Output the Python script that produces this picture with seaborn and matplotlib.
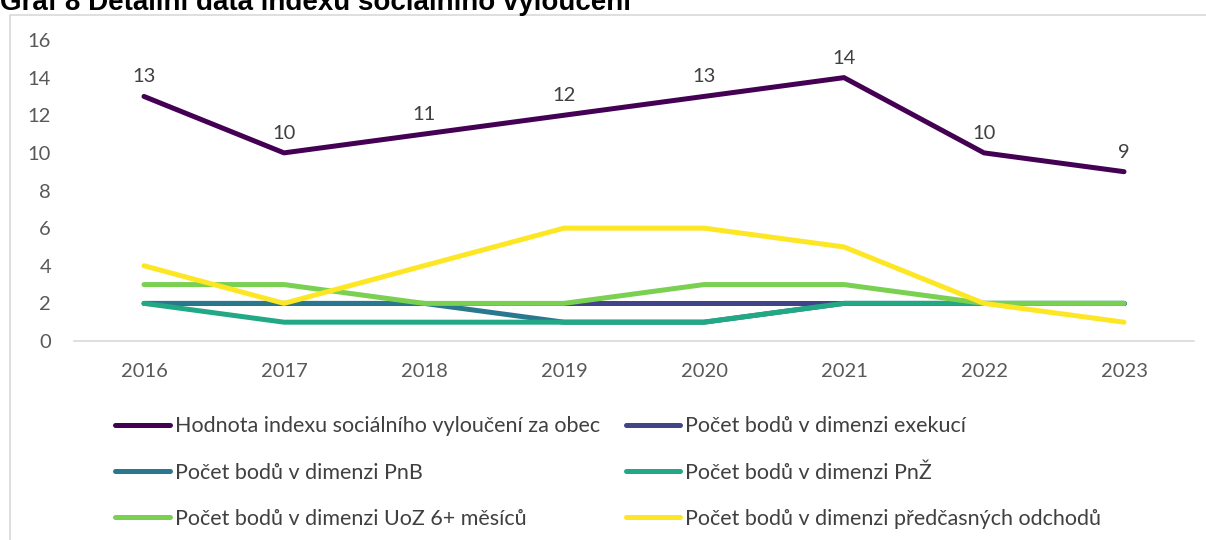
import pandas as pd
import seaborn as sns
import matplotlib.pyplot as plt
from matplotlib.patches import Rectangle

years = [2016, 2017, 2018, 2019, 2020, 2021, 2022, 2023]
index_total = [13, 10, 11, 12, 13, 14, 10, 9]
exekuce = [2, 2, 2, 2, 2, 2, 2, 2]
pnb = [2, 2, 2, 1, 1, 2, 2, 2]
pnz = [2, 1, 1, 1, 1, 2, 2, 2]
uoz = [3, 3, 2, 2, 3, 3, 2, 2]
odchody = [4, 2, 4, 6, 6, 5, 2, 1]

series_names = [
    "Hodnota indexu sociálního vyloučení za obec",
    "Počet bodů v dimenzi exekucí",
    "Počet bodů v dimenzi PnB",
    "Počet bodů v dimenzi PnŽ",
    "Počet bodů v dimenzi UoZ 6+ měsíců",
    "Počet bodů v dimenzi předčasných odchodů",
]
colors = ["#440154", "#414487", "#2A788E", "#22A884", "#7AD151", "#FDE725"]

# long-form table for seaborn
rows = []
for name, vals in zip(series_names, [index_total, exekuce, pnb, pnz, uoz, odchody]):
    for i, v in enumerate(vals):
        rows.append({"pos": i, "year": str(years[i]), "value": v, "series": name})
df = pd.DataFrame(rows)

sns.set_style("white")
plt.rcParams['font.family'] = ['Lato', 'DejaVu Sans']

fig = plt.figure(figsize=(12.06, 5.40), dpi=100)
ax = fig.add_axes([74 / 1206, 1 - 341 / 540, 1120 / 1206, 301 / 540])

sns.lineplot(data=df, x="pos", y="value", hue="series", palette=colors,
             hue_order=series_names, linewidth=3.6, ax=ax, legend=False,
             solid_capstyle="round")

# data labels on the index line
for i, v in enumerate(index_total):
    ax.annotate(str(v), (i, v), xytext=(0, 14), textcoords="offset points",
                ha="center", va="center", fontsize=14.5, color="#404040")

ax.set_xlim(-0.5, 7.5)
ax.set_ylim(0, 16)
ax.set_yticks(range(0, 17, 2))
ax.set_xticks(range(len(years)))
ax.set_xticklabels([str(y) for y in years])
ax.set_xlabel("")
ax.set_ylabel("")
for s in ["top", "right", "left"]:
    ax.spines[s].set_visible(False)
ax.spines["bottom"].set_color("#d9d9d9")
ax.spines["bottom"].set_linewidth(1.2)
ax.tick_params(axis="both", length=0, labelsize=14.5, labelcolor="#595959")
ax.tick_params(axis="y", pad=16.5)
ax.tick_params(axis="x", pad=16)

# legend, filled row by row (matplotlib fills columns first)
handles = [plt.Line2D([], [], color=c, linewidth=3.6, solid_capstyle="round") for c in colors]
order = [0, 2, 4, 1, 3, 5]
fig.legend([handles[k] for k in order], [series_names[k] for k in order],
           ncol=2, loc="upper left",
           bbox_to_anchor=(96 / 1206, 1 - 397 / 540), frameon=False,
           fontsize=15.5, labelcolor="#404040", handlelength=2.55,
           handletextpad=0.2, columnspacing=1.2, labelspacing=1.22)

# outer frame and clipped title
fig.patches.append(Rectangle((10 / 1206, -0.01), 1.0, 1 - 15 / 540 + 0.01,
                             transform=fig.transFigure, fill=False,
                             edgecolor="#d9d9d9", linewidth=1.2))
fig.text(0.0, 1 - 10 / 540, "Graf 8 Detailní data indexu sociálního vyloučení",
         fontsize=20, fontweight="bold", family=["Liberation Sans", "DejaVu Sans"],
         va="baseline", ha="left", color="black")

fig.savefig("out.png", dpi=100)
